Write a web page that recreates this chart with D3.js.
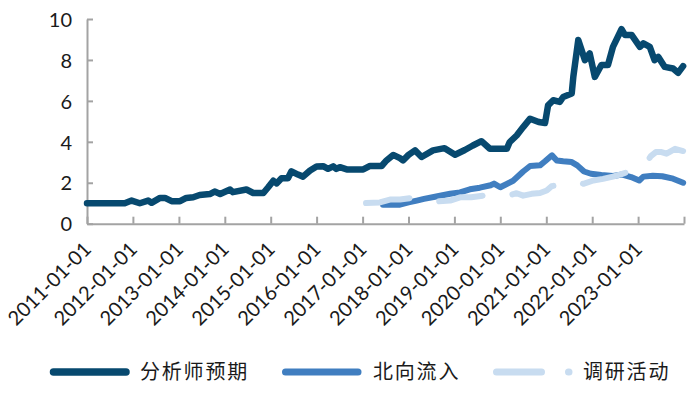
<!DOCTYPE html>
<html>
<head>
<meta charset="utf-8">
<script src="https://cdn.jsdelivr.net/npm/d3@7"></script>
<style>
  body { margin: 0; background: #fff; }
  svg { display: block; }
  .tick text { fill: #1a1a1a; font-family: Lato, "Open Sans", sans-serif; }
  .legend text { font-family: "Noto Sans CJK SC", sans-serif; fill: #1a1a1a; }
</style>
</head>
<body>
<div id="chart"></div>
<script>
// series: analyst expectations
var analystDates = ["2011-01-01","2011-10-28","2011-12-22","2012-02-25","2012-05-01","2012-05-28","2012-08-04","2012-09-12","2012-11-04","2013-01-10","2013-03-01","2013-04-25","2013-06-15","2013-09-04","2013-10-12","2013-11-25","2014-02-12","2014-03-06","2014-06-22","2014-08-15","2014-11-04","2014-12-12","2015-01-22","2015-02-18","2015-03-28","2015-05-18","2015-06-15","2015-08-06","2015-09-15","2015-11-10","2016-01-01","2016-02-22","2016-04-01","2016-05-12","2016-06-06","2016-07-04","2016-08-28","2017-01-06","2017-03-01","2017-06-01","2017-07-10","2017-09-01","2017-10-25","2017-11-18","2018-01-01","2018-02-22","2018-04-15","2018-07-15","2018-10-15","2019-01-06","2019-03-25","2019-05-28","2019-08-04","2019-10-10","2020-02-22","2020-03-15","2020-05-10","2020-07-01","2020-08-25","2020-11-01","2020-12-22","2021-01-15","2021-02-25","2021-04-18","2021-05-15","2021-07-22","2021-08-04","2021-09-12","2021-11-04","2021-12-12","2022-01-22","2022-03-15","2022-05-06","2022-06-15","2022-08-22","2022-09-18","2022-11-10","2023-01-15","2023-02-12","2023-04-04","2023-05-12","2023-06-10","2023-08-01","2023-10-06","2023-11-15","2023-12-25"];
var analystValues = [1.00,1.00,1.13,1.00,1.13,1.02,1.26,1.26,1.10,1.10,1.26,1.29,1.40,1.45,1.57,1.45,1.67,1.54,1.67,1.50,1.50,1.78,2.10,1.97,2.22,2.22,2.56,2.40,2.30,2.60,2.80,2.81,2.68,2.80,2.68,2.76,2.65,2.65,2.82,2.82,3.09,3.36,3.20,3.09,3.36,3.58,3.26,3.58,3.69,3.37,3.60,3.82,4.03,3.66,3.66,3.98,4.31,4.72,5.13,4.97,4.92,5.78,6.03,5.95,6.19,6.36,7.19,8.97,7.99,8.32,7.17,7.75,7.75,8.64,9.50,9.22,9.22,8.64,8.81,8.64,7.99,8.15,7.66,7.58,7.37,7.70];

// series: northbound inflow
var northDates = ["2017-06-12","2017-10-25","2018-01-01","2018-03-08","2018-05-04","2018-08-10","2018-11-28","2019-02-15","2019-05-04","2019-07-22","2019-10-16","2019-11-12","2020-01-01","2020-04-12","2020-07-01","2020-08-25","2020-11-12","2020-12-22","2021-02-15","2021-03-25","2021-05-15","2021-07-22","2021-09-04","2021-10-28","2021-12-22","2022-03-15","2022-06-15","2022-08-28","2022-11-06","2023-01-10","2023-02-12","2023-04-28","2023-07-12","2023-10-06","2023-12-25"];
var northValues = [0.93,0.93,1.04,1.13,1.21,1.33,1.46,1.53,1.68,1.76,1.88,1.96,1.78,2.10,2.55,2.82,2.85,3.05,3.34,3.09,3.05,3.01,2.85,2.55,2.44,2.38,2.33,2.40,2.28,2.11,2.30,2.34,2.32,2.20,2.00];

// series: research visits
var visitDates = ["2017-01-28","2017-05-18","2017-08-06","2017-10-25","2018-01-25","2018-05-04","2018-08-12","2018-11-28","2019-02-15","2019-05-15","2019-08-18","2019-11-18","2020-03-04","2020-05-10","2020-07-01","2020-09-06","2020-11-12","2021-01-04","2021-02-12","2021-05-18","2021-09-01","2021-10-22","2022-01-10","2022-03-28","2022-06-15","2022-08-22","2022-11-12","2023-02-12","2023-04-12","2023-05-22","2023-07-06","2023-08-15","2023-10-22","2023-12-25"];
var visitValues = [1.01,1.04,1.18,1.18,1.26,1.20,1.09,1.13,1.29,1.29,1.37,1.37,1.37,1.49,1.37,1.46,1.50,1.62,1.83,1.95,2.03,1.95,2.11,2.19,2.30,2.42,2.60,2.76,3.30,3.50,3.50,3.42,3.66,3.55];

var seriesNames = ["分析师预期", "北向流入", "调研活动"];
var seriesColors = ["#07496f", "#407ec0", "#c8dcf0"];

var yTicks = [0, 2, 4, 6, 8, 10];
var xStart = "2011-01-01", xEnd = "2024-01-01";

var svgWidth = 699, svgHeight = 396;
var margin = { top: 19, right: 15, bottom: 173, left: 87 };

var parse = d3.timeParse("%Y-%m-%d");
var fmt = d3.timeFormat("%Y-%m-%d");

var svg = d3.select("#chart").append("svg")
    .attr("width", svgWidth)
    .attr("height", svgHeight);

var x = d3.scaleTime()
    .domain([parse(xStart), parse(xEnd)])
    .range([margin.left, svgWidth - margin.right]);

var y = d3.scaleLinear()
    .domain([0, 10])
    .range([svgHeight - margin.bottom + 0.7, margin.top]);

function zip(dates, values) {
    return dates.map((d, i) => ({ date: parse(d), value: values[i] }));
}

var series = [
    { name: seriesNames[0], color: seriesColors[0], width: 6.5, dash: null, legendDash: null, data: zip(analystDates, analystValues) },
    { name: seriesNames[1], color: seriesColors[1], width: 6, dash: null, legendDash: null, data: zip(northDates, northValues) },
    { name: seriesNames[2], color: seriesColors[2], width: 6, dash: "44,30", legendDash: "45,27", data: zip(visitDates, visitValues) }
];

// axes
var yAxis = d3.axisLeft(y).tickValues(yTicks).tickSizeInner(-6).tickSizeOuter(0).tickPadding(15);
var gy = svg.append("g")
    .attr("transform", `translate(${margin.left},0)`)
    .call(yAxis);
gy.selectAll("text").attr("font-size", "20px").attr("dy", "0.36em");

var yearTicks = d3.timeYear.every(1).range(parse(xStart), d3.timeDay.offset(parse(xEnd), 1));
var xAxis = d3.axisBottom(x).tickValues(yearTicks).tickSizeInner(-7).tickSizeOuter(0)
    .tickFormat(d => d < parse(xEnd) ? fmt(d) : "");
var gx = svg.append("g")
    .attr("transform", `translate(0,${y(0)})`)
    .call(xAxis);
gx.selectAll("text")
    .attr("font-size", "20px")
    .attr("text-anchor", "end")
    .attr("x", 0).attr("y", 0).attr("dy", "0.35em")
    .attr("transform", "translate(0,22) rotate(-45)");

svg.selectAll(".domain, .tick line")
    .attr("stroke", "#a3a3a3")
    .attr("stroke-width", 2);

// lines
var line = d3.line()
    .x(d => x(d.date))
    .y(d => y(d.value))
    .curve(d3.curveLinear);

svg.selectAll(".series")
    .data(series)
    .enter()
    .append("path")
    .attr("class", "series")
    .attr("d", d => line(d.data))
    .attr("fill", "none")
    .attr("stroke", d => d.color)
    .attr("stroke-width", d => d.width)
    .attr("stroke-linecap", "round")
    .attr("stroke-linejoin", "round")
    .attr("stroke-dasharray", d => d.dash);

// legend
var legendX = [50, 282, 493];
var legend = svg.append("g").attr("class", "legend")
    .selectAll("g")
    .data(series)
    .enter()
    .append("g")
    .attr("transform", (d, i) => `translate(${legendX[i]},372)`);

legend.append("line")
    .attr("x1", 3.5).attr("x2", 76)
    .attr("y1", 0).attr("y2", 0)
    .attr("stroke", d => d.color)
    .attr("stroke-width", d => d.width + 1)
    .attr("stroke-linecap", "round")
    .attr("stroke-dasharray", d => d.legendDash);

legend.append("text")
    .attr("x", (d, i) => i === 1 ? 91 : 90)
    .attr("y", 0)
    .attr("dy", "0.36em")
    .attr("font-size", "20px")
    .attr("letter-spacing", "1.8px")
    .text(d => d.name);
</script>
</body>
</html>
